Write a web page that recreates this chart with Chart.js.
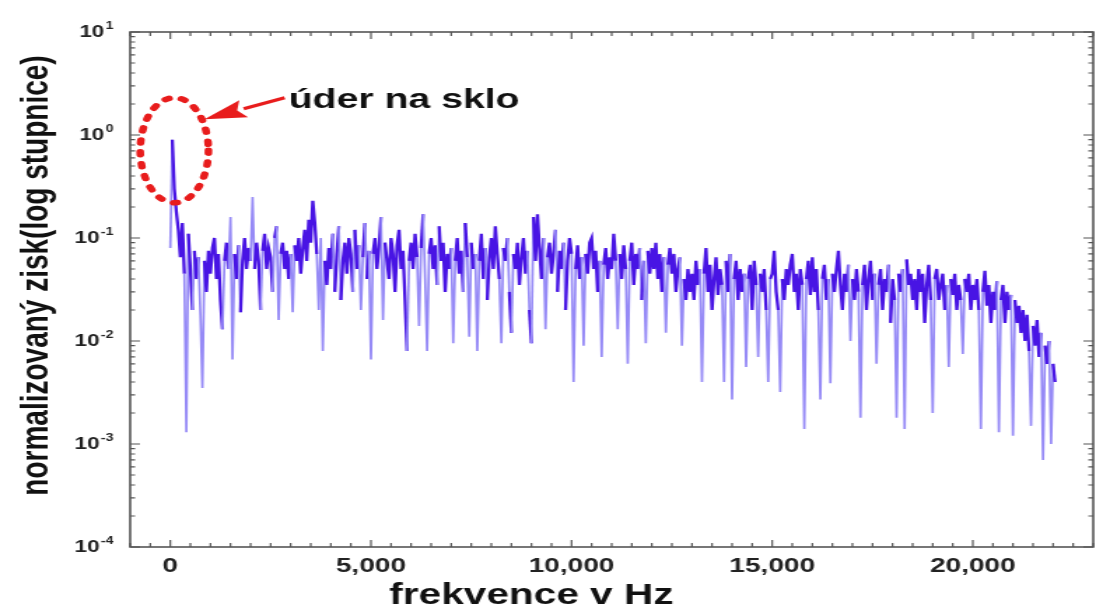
<!DOCTYPE html>
<html>
<head>
<meta charset="utf-8">
<title>úder na sklo – spektrum</title>
<script src="https://cdn.jsdelivr.net/npm/chart.js@4.4.1/dist/chart.umd.min.js"></script>
<style>
  html, body { margin: 0; padding: 0; background: #fff; }
  #wrap { width: 1096px; height: 606px; overflow: hidden; }
</style>
</head>
<body>
<div id="wrap">
  <!-- the original picture is stretched sideways, so the canvas is drawn narrow and shown wide -->
  <canvas id="spectrum" width="783" height="606" style="width:1096px;height:606px"></canvas>
</div>
<script>
// FFT bins, 50 Hz apart, 0 .. 22050 Hz
const binHz = 50;

// normalised gain per bin (10 bins = 500 Hz per row)
const gain = [
  0.08, 0.9, 0.3, 0.18, 0.12, 0.065, 0.14, 0.045, 0.0013, 0.11,
  0.05, 0.02, 0.075, 0.04, 0.065, 0.018, 0.0035, 0.06, 0.03, 0.075,
  0.045, 0.08, 0.1, 0.04, 0.07, 0.025, 0.013, 0.06, 0.09, 0.05,
  0.16, 0.0066, 0.07, 0.04, 0.085, 0.019, 0.06, 0.1, 0.05, 0.08,
  0.06, 0.25, 0.05, 0.09, 0.06, 0.02, 0.075, 0.11, 0.05, 0.08,
  0.065, 0.03, 0.1, 0.13, 0.016, 0.07, 0.09, 0.05, 0.075, 0.04,
  0.07, 0.019, 0.085, 0.06, 0.1, 0.045, 0.08, 0.12, 0.06, 0.15,
  0.09, 0.23, 0.14, 0.07, 0.02, 0.1, 0.008, 0.06, 0.035, 0.08,
  0.05, 0.11, 0.03, 0.07, 0.13, 0.025, 0.06, 0.09, 0.045, 0.1,
  0.07, 0.03, 0.12, 0.05, 0.085, 0.02, 0.065, 0.14, 0.04, 0.075,
  0.0066, 0.07, 0.1, 0.05, 0.08, 0.16, 0.016, 0.09, 0.06, 0.04,
  0.1, 0.07, 0.03, 0.085, 0.12, 0.05, 0.075, 0.025, 0.008, 0.06,
  0.09, 0.05, 0.11, 0.065, 0.014, 0.08, 0.17, 0.04, 0.008, 0.07,
  0.1, 0.05, 0.085, 0.035, 0.13, 0.06, 0.09, 0.03, 0.07, 0.05,
  0.08, 0.0095, 0.06, 0.1, 0.045, 0.075, 0.03, 0.14, 0.065, 0.011,
  0.09, 0.05, 0.07, 0.008, 0.06, 0.11, 0.04, 0.08, 0.025, 0.065,
  0.1, 0.05, 0.13, 0.07, 0.04, 0.0095, 0.08, 0.06, 0.1, 0.03,
  0.012, 0.07, 0.05, 0.09, 0.035, 0.065, 0.1, 0.045, 0.075, 0.02,
  0.0095, 0.16, 0.06, 0.17, 0.08, 0.04, 0.1, 0.013, 0.065, 0.09,
  0.045, 0.07, 0.12, 0.03, 0.075, 0.05, 0.09, 0.02, 0.06, 0.1,
  0.07, 0.004, 0.05, 0.085, 0.04, 0.065, 0.009, 0.07, 0.045, 0.09,
  0.1, 0.05, 0.075, 0.03, 0.06, 0.007, 0.055, 0.08, 0.04, 0.065,
  0.05, 0.11, 0.06, 0.013, 0.07, 0.04, 0.085, 0.05, 0.006, 0.06,
  0.09, 0.035, 0.07, 0.05, 0.08, 0.025, 0.06, 0.0095, 0.075, 0.045,
  0.08, 0.05, 0.09, 0.04, 0.07, 0.03, 0.065, 0.012, 0.055, 0.08,
  0.045, 0.07, 0.03, 0.05, 0.065, 0.009, 0.04, 0.025, 0.05, 0.03,
  0.045, 0.025, 0.06, 0.035, 0.05, 0.004, 0.045, 0.08, 0.03, 0.055,
  0.02, 0.04, 0.065, 0.028, 0.05, 0.035, 0.004, 0.06, 0.03, 0.07,
  0.0027, 0.04, 0.06, 0.025, 0.05, 0.03, 0.045, 0.0056, 0.04, 0.055,
  0.02, 0.06, 0.035, 0.007, 0.045, 0.03, 0.05, 0.02, 0.004, 0.04,
  0.045, 0.075, 0.03, 0.02, 0.0032, 0.04, 0.025, 0.05, 0.035, 0.055,
  0.07, 0.03, 0.045, 0.02, 0.05, 0.035, 0.0014, 0.04, 0.06, 0.028,
  0.065, 0.03, 0.05, 0.02, 0.0027, 0.04, 0.055, 0.025, 0.04, 0.0039,
  0.045, 0.03, 0.05, 0.075, 0.035, 0.02, 0.045, 0.03, 0.055, 0.01,
  0.04, 0.025, 0.05, 0.03, 0.0018, 0.035, 0.055, 0.02, 0.04, 0.06,
  0.025, 0.045, 0.006, 0.035, 0.05, 0.02, 0.04, 0.03, 0.055, 0.015,
  0.04, 0.025, 0.0018, 0.045, 0.03, 0.05, 0.0014, 0.062, 0.035, 0.045,
  0.025, 0.04, 0.02, 0.05, 0.03, 0.045, 0.015, 0.035, 0.055, 0.025,
  0.002, 0.04, 0.05, 0.025, 0.035, 0.045, 0.02, 0.035, 0.0056, 0.04,
  0.028, 0.045, 0.02, 0.035, 0.025, 0.0075, 0.04, 0.03, 0.045, 0.02,
  0.035, 0.025, 0.04, 0.02, 0.0014, 0.03, 0.048, 0.022, 0.035, 0.015,
  0.03, 0.02, 0.038, 0.0013, 0.025, 0.035, 0.015, 0.03, 0.02, 0.028,
  0.0012, 0.025, 0.015, 0.022, 0.012, 0.02, 0.01, 0.018, 0.008, 0.0015,
  0.014, 0.009, 0.016, 0.007, 0.012, 0.0007, 0.009, 0.006, 0.01, 0.001,
  0.006, 0.004
];

// axes
const xRange = [-1000, 23000];
const xLabelTicks = [0, 5000, 10000, 15000, 20000];
const yDecades = [-4, -3, -2, -1, 0, 1];
const xTitle = 'frekvence v Hz';
const yTitle = 'normalizovaný zisk(log stupnice)';

// annotation (data units)
const noteText = 'úder na sklo';
const ringHz = [-750, 950];
const ringGain = [0.22, 2.3];
const arrowFrom = [2850, 2.3];
const arrowTo = [850, 1.42];
const noteAt = [2950, 1.83];

const fam = '"Liberation Sans", Arial, Helvetica, sans-serif';
const darkLine = 'rgb(72, 20, 228)';
const lightLine = 'rgb(150, 138, 246)';
const axisGray = '#555';
const red = 'rgb(232, 28, 28)';

// jump between two neighbouring bins, in decades
function jump(c) {
    return Math.abs(Math.log10(c.p1.parsed.y) - Math.log10(c.p0.parsed.y));
}

const decor = {
    id: 'decor',
    afterDraw(chart) {
        const {ctx, chartArea: a, scales: {x, y}} = chart;
        ctx.save();

        // inward tick marks on all four sides
        ctx.strokeStyle = axisGray;
        ctx.lineWidth = 1.2;
        ctx.beginPath();
        x.ticks.forEach(t => {
            const px = x.getPixelForValue(t.value);
            const len = t.value % 5000 === 0 ? 7 : 4;
            ctx.moveTo(px, a.bottom); ctx.lineTo(px, a.bottom - len);
            ctx.moveTo(px, a.top); ctx.lineTo(px, a.top + len);
        });
        yDecades.forEach((d, k) => {
            const py = y.getPixelForValue(Math.pow(10, d));
            ctx.moveTo(a.left, py); ctx.lineTo(a.left + 7, py);
            ctx.moveTo(a.right, py); ctx.lineTo(a.right - 7, py);
            if (k === yDecades.length - 1) return;
            for (let m = 2; m <= 9; m++) {
                const pm = y.getPixelForValue(m * Math.pow(10, d));
                ctx.moveTo(a.left, pm); ctx.lineTo(a.left + 3.5, pm);
                ctx.moveTo(a.right, pm); ctx.lineTo(a.right - 3.5, pm);
            }
        });
        ctx.stroke();

        ctx.lineWidth = 1.6;
        ctx.strokeRect(a.left, a.top, a.right - a.left, a.bottom - a.top);

        // x tick labels
        ctx.fillStyle = '#222';
        ctx.font = `bold 20px ${fam}`;
        ctx.textAlign = 'center';
        ctx.textBaseline = 'middle';
        xLabelTicks.forEach(v => {
            ctx.fillText(v.toLocaleString('en-US'), x.getPixelForValue(v), a.bottom + 19);
        });

        // y tick labels 10^n
        yDecades.forEach(d => {
            const py = y.getPixelForValue(Math.pow(10, d));
            const exp = String(d);
            const xr = a.left - 12;
            ctx.font = `bold 10px ${fam}`;
            const ew = ctx.measureText(exp).width;
            ctx.textAlign = 'left';
            ctx.fillText(exp, xr - ew, py - 6);
            ctx.font = `bold 16px ${fam}`;
            ctx.textAlign = 'right';
            ctx.fillText('10', xr - ew - 1, py + 1);
        });

        // axis titles
        ctx.fillStyle = '#111';
        ctx.font = `bold 29px ${fam}`;
        ctx.textAlign = 'center';
        ctx.textBaseline = 'alphabetic';
        ctx.fillText(xTitle, x.getPixelForValue(9000), chart.height - 2);
        ctx.font = `bold 28px ${fam}`;
        ctx.save();
        ctx.translate(26, (a.top + a.bottom) / 2 - 14);
        ctx.rotate(-Math.PI / 2);
        ctx.textBaseline = 'middle';
        ctx.fillText(yTitle, 0, 0);
        ctx.restore();

        // dashed red ring round the impact peak
        const x0 = x.getPixelForValue(ringHz[0]), x1 = x.getPixelForValue(ringHz[1]);
        const y0 = y.getPixelForValue(ringGain[0]), y1 = y.getPixelForValue(ringGain[1]);
        ctx.strokeStyle = red;
        ctx.lineWidth = 5.5;
        ctx.lineCap = 'round';
        ctx.setLineDash([3, 9]);
        ctx.beginPath();
        ctx.ellipse((x0 + x1) / 2, (y0 + y1) / 2, (x1 - x0) / 2, (y0 - y1) / 2, 0, 0, Math.PI * 2);
        ctx.stroke();
        ctx.setLineDash([]);

        // arrow
        const tx = x.getPixelForValue(arrowFrom[0]), ty = y.getPixelForValue(arrowFrom[1]);
        const hx = x.getPixelForValue(arrowTo[0]), hy = y.getPixelForValue(arrowTo[1]);
        const len = Math.hypot(hx - tx, hy - ty);
        const ux = (hx - tx) / len, uy = (hy - ty) / len;
        const headLen = 30, headHalf = 9;
        const bx = hx - ux * headLen, by = hy - uy * headLen;
        ctx.lineWidth = 3.2;
        ctx.lineCap = 'butt';
        ctx.beginPath();
        ctx.moveTo(tx, ty); ctx.lineTo(bx, by);
        ctx.stroke();
        ctx.fillStyle = red;
        ctx.beginPath();
        ctx.moveTo(hx, hy);
        ctx.lineTo(bx - uy * headHalf, by + ux * headHalf);
        ctx.lineTo(bx + ux * 5, by + uy * 5);
        ctx.lineTo(bx + uy * headHalf, by - ux * headHalf);
        ctx.closePath();
        ctx.fill();

        // note
        ctx.fillStyle = '#111';
        ctx.font = `bold 28px ${fam}`;
        ctx.textAlign = 'left';
        ctx.textBaseline = 'alphabetic';
        ctx.fillText(noteText, x.getPixelForValue(noteAt[0]), y.getPixelForValue(noteAt[1]));

        ctx.restore();
    }
};

new Chart(document.getElementById('spectrum'), {
    type: 'line',
    data: {
        datasets: [{
            data: gain.map((g, i) => ({x: i * binHz, y: g})),
            borderColor: darkLine,
            borderWidth: 2,
            pointRadius: 0,
            tension: 0,
            segment: {
                borderColor: c => jump(c) > 0.5 ? lightLine : darkLine,
                borderWidth: c => jump(c) > 0.5 ? 1.7 : 2.3
            }
        }]
    },
    options: {
        responsive: false,
        animation: false,
        events: [],
        layout: { padding: { top: 32, right: 2, bottom: 0, left: 0 } },
        plugins: {
            legend: { display: false },
            tooltip: { enabled: false }
        },
        scales: {
            x: {
                type: 'linear',
                min: xRange[0],
                max: xRange[1],
                grid: { display: false },
                border: { display: false },
                ticks: { stepSize: 500, autoSkip: false, display: false },
                afterFit: s => { s.height = 59; }
            },
            y: {
                type: 'logarithmic',
                min: 1e-4,
                max: 10,
                grid: { display: false },
                border: { display: false },
                ticks: { display: false },
                afterFit: s => { s.width = 93; }
            }
        }
    },
    plugins: [decor]
});
</script>
</body>
</html>
